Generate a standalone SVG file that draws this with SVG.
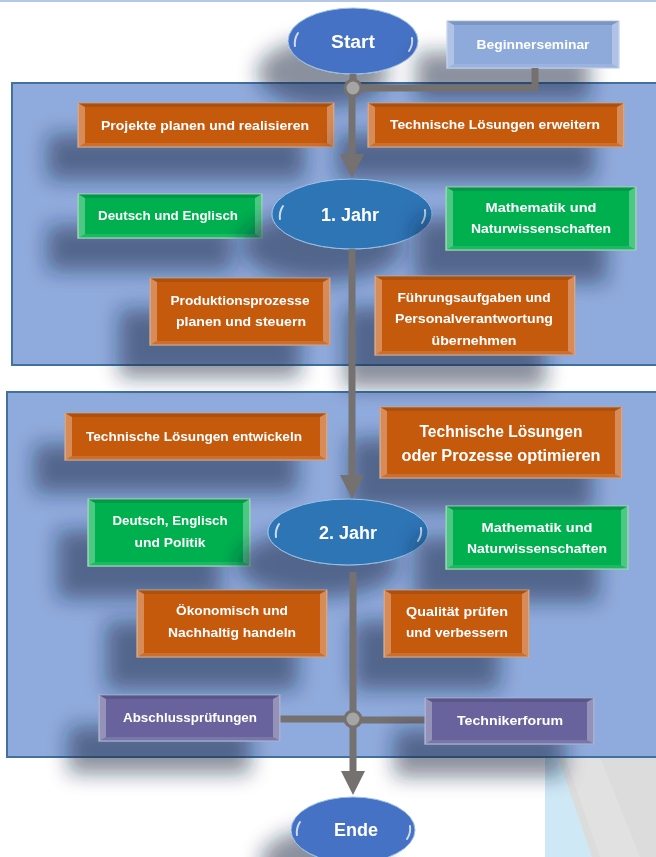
<svg xmlns="http://www.w3.org/2000/svg" width="656" height="857" viewBox="0 0 656 857">
<defs>
<style>
.t{font-family:"Liberation Sans",Arial,sans-serif;font-weight:bold;fill:#fff;text-anchor:middle;font-size:13px}
.big{font-size:18px}
.mid{font-size:16px}
.o{fill:#c55a11;stroke:#c9a38c;stroke-width:1}
.g{fill:#00b050;stroke:#a8d7b9;stroke-width:1}
.p{fill:#67649c;stroke:#aab2d2;stroke-width:1}
.lb{fill:#8eaadb;stroke:#b4c7e7;stroke-width:1}
.hl{fill:#fff;opacity:.3}
.dk{fill:#000;opacity:.12}
.lt{fill:#fff;opacity:.12}
.ell{stroke:#9dc3e6;stroke-width:1}
.gl{fill:none;stroke:#fff;stroke-width:2;stroke-linecap:round;opacity:.75}
.con{fill:none;stroke:#767171;stroke-width:7}
.jn{fill:#a5a5a5;stroke:#767171;stroke-width:3}
.panel{fill:#8faadc;stroke:#41719c;stroke-width:2}
</style>
<marker id="ah" markerWidth="24" markerHeight="24" refX="1" refY="12" orient="auto" markerUnits="userSpaceOnUse"><path d="M0,0 L24,12 L0,24 z" fill="#767171"/></marker>
<filter id="sh" x="-50%" y="-60%" width="200%" height="340%">
<feGaussianBlur in="SourceAlpha" stdDeviation="10"/>
<feOffset dx="-30" dy="32" result="b"/>
<feFlood flood-color="#14213d" flood-opacity="0.5"/>
<feComposite in2="b" operator="in"/>
<feMerge><feMergeNode/><feMergeNode in="SourceGraphic"/></feMerge>
</filter>
</defs>
<rect width="656" height="857" fill="#fff"/>
<line x1="0" y1="1" x2="656" y2="1" stroke="#b4c7e7" stroke-width="2"/>
<g id="background">
<polygon points="545,757 656,757 656,857 545,857" fill="#cfe8f6"/>
<polygon points="558,757 656,757 656,857 592,857" fill="#dcdcdc"/>
<polygon points="565,757 600,757 640,857 600,857" fill="#e4e4e4" opacity="0.6"/>
</g>
<g id="panels">
<rect class="panel" x="12" y="83" width="660" height="282"/>
<rect class="panel" x="7" y="392" width="665" height="365"/>
</g>
<g id="start" filter="url(#sh)">
<ellipse class="ell" cx="353" cy="41" rx="65" ry="33" fill="#4472c4"/>
<path class="gl" d="M295,46 Q294,39 298,33"/><path class="gl" d="M412,38 Q413,45 409,51"/>
<text class="t big" x="353" y="48" textLength="44" lengthAdjust="spacingAndGlyphs">Start</text>
</g>
<g id="beginnerseminar" filter="url(#sh)">
<rect class="lb" x="447" y="21" width="172" height="47"/>
<polygon class="hl" points="447,21 454,25 454,64 447,68"/><polygon class="hl" points="619,21 612,25 612,64 619,68"/>
<polygon class="dk" points="447,21 619,21 612,25 454,25"/><polygon class="lt" points="447,68 619,68 612,64 454,64"/>
<text class="t" x="533" y="49" textLength="113" lengthAdjust="spacingAndGlyphs">Beginnerseminar</text>
</g>
<g id="projekte" filter="url(#sh)">
<rect class="o" x="78" y="103" width="256" height="44"/>
<polygon class="hl" points="78,103 85,107 85,143 78,147"/><polygon class="hl" points="334,103 327,107 327,143 334,147"/>
<polygon class="dk" points="78,103 334,103 327,107 85,107"/><polygon class="lt" points="78,147 334,147 327,143 85,143"/>
<text class="t" x="205" y="130" textLength="208" lengthAdjust="spacingAndGlyphs">Projekte planen und realisieren</text>
</g>
<g id="tech-erweitern" filter="url(#sh)">
<rect class="o" x="368" y="103" width="256" height="44"/>
<polygon class="hl" points="368,103 375,107 375,143 368,147"/><polygon class="hl" points="624,103 617,107 617,143 624,147"/>
<polygon class="dk" points="368,103 624,103 617,107 375,107"/><polygon class="lt" points="368,147 624,147 617,143 375,143"/>
<text class="t" x="495" y="129" textLength="210" lengthAdjust="spacingAndGlyphs">Technische Lösungen erweitern</text>
</g>
<g id="deutsch1" filter="url(#sh)">
<rect class="g" x="78" y="194" width="184" height="44"/>
<polygon class="hl" points="78,194 85,198 85,234 78,238"/><polygon class="hl" points="262,194 255,198 255,234 262,238"/>
<polygon class="dk" points="78,194 262,194 255,198 85,198"/><polygon class="lt" points="78,238 262,238 255,234 85,234"/>
<text class="t" x="168" y="220" textLength="140" lengthAdjust="spacingAndGlyphs">Deutsch und Englisch</text>
</g>
<g id="jahr1" filter="url(#sh)">
<ellipse class="ell" cx="352" cy="214" rx="80" ry="35" fill="#2e75b6"/>
<path class="gl" d="M280,219 Q279,212 283,206"/><path class="gl" d="M425,210 Q426,217 422,223"/>
<text class="t big" x="350" y="221" textLength="58" lengthAdjust="spacingAndGlyphs">1. Jahr</text>
</g>
<g id="mathe1" filter="url(#sh)">
<rect class="g" x="446" y="187" width="190" height="63"/>
<polygon class="hl" points="446,187 453,191 453,246 446,250"/><polygon class="hl" points="636,187 629,191 629,246 636,250"/>
<polygon class="dk" points="446,187 636,187 629,191 453,191"/><polygon class="lt" points="446,250 636,250 629,246 453,246"/>
<text class="t" x="541" y="212" textLength="111" lengthAdjust="spacingAndGlyphs">Mathematik und</text>
<text class="t" x="541" y="233" textLength="140" lengthAdjust="spacingAndGlyphs">Naturwissenschaften</text>
</g>
<g id="produktion" filter="url(#sh)">
<rect class="o" x="150" y="278" width="180" height="67"/>
<polygon class="hl" points="150,278 157,282 157,341 150,345"/><polygon class="hl" points="330,278 323,282 323,341 330,345"/>
<polygon class="dk" points="150,278 330,278 323,282 157,282"/><polygon class="lt" points="150,345 330,345 323,341 157,341"/>
<text class="t" x="240" y="305" textLength="139" lengthAdjust="spacingAndGlyphs">Produktionsprozesse</text>
<text class="t" x="241" y="326" textLength="130" lengthAdjust="spacingAndGlyphs">planen und steuern</text>
</g>
<g id="fuehrung" filter="url(#sh)">
<rect class="o" x="375" y="276" width="200" height="79"/>
<polygon class="hl" points="375,276 382,280 382,351 375,355"/><polygon class="hl" points="575,276 568,280 568,351 575,355"/>
<polygon class="dk" points="375,276 575,276 568,280 382,280"/><polygon class="lt" points="375,355 575,355 568,351 382,351"/>
<text class="t" x="474" y="302" textLength="153" lengthAdjust="spacingAndGlyphs">Führungsaufgaben und</text>
<text class="t" x="474" y="323" textLength="158" lengthAdjust="spacingAndGlyphs">Personalverantwortung</text>
<text class="t" x="474" y="345" textLength="85" lengthAdjust="spacingAndGlyphs">übernehmen</text>
</g>
<g id="tech-entwickeln" filter="url(#sh)">
<rect class="o" x="65" y="413" width="262" height="47"/>
<polygon class="hl" points="65,413 72,417 72,456 65,460"/><polygon class="hl" points="327,413 320,417 320,456 327,460"/>
<polygon class="dk" points="65,413 327,413 320,417 72,417"/><polygon class="lt" points="65,460 327,460 320,456 72,456"/>
<text class="t" x="194" y="441" textLength="216" lengthAdjust="spacingAndGlyphs">Technische Lösungen entwickeln</text>
</g>
<g id="tech-optimieren" filter="url(#sh)">
<rect class="o" x="380" y="407" width="242" height="71"/>
<polygon class="hl" points="380,407 387,411 387,474 380,478"/><polygon class="hl" points="622,407 615,411 615,474 622,478"/>
<polygon class="dk" points="380,407 622,407 615,411 387,411"/><polygon class="lt" points="380,478 622,478 615,474 387,474"/>
<text class="t mid" x="501" y="437" textLength="163" lengthAdjust="spacingAndGlyphs">Technische Lösungen</text>
<text class="t mid" x="501" y="461" textLength="199" lengthAdjust="spacingAndGlyphs">oder Prozesse optimieren</text>
</g>
<g id="deutsch2" filter="url(#sh)">
<rect class="g" x="88" y="499" width="162" height="67"/>
<polygon class="hl" points="88,499 95,503 95,562 88,566"/><polygon class="hl" points="250,499 243,503 243,562 250,566"/>
<polygon class="dk" points="88,499 250,499 243,503 95,503"/><polygon class="lt" points="88,566 250,566 243,562 95,562"/>
<text class="t" x="170" y="525" textLength="115" lengthAdjust="spacingAndGlyphs">Deutsch, Englisch</text>
<text class="t" x="170" y="547" textLength="71" lengthAdjust="spacingAndGlyphs">und Politik</text>
</g>
<g id="jahr2" filter="url(#sh)">
<ellipse class="ell" cx="348" cy="532" rx="80" ry="33" fill="#2e75b6"/>
<path class="gl" d="M276,537 Q275,530 279,524"/><path class="gl" d="M421,528 Q422,535 418,541"/>
<text class="t big" x="348" y="539" textLength="58" lengthAdjust="spacingAndGlyphs">2. Jahr</text>
</g>
<g id="mathe2" filter="url(#sh)">
<rect class="g" x="446" y="506" width="182" height="63"/>
<polygon class="hl" points="446,506 453,510 453,565 446,569"/><polygon class="hl" points="628,506 621,510 621,565 628,569"/>
<polygon class="dk" points="446,506 628,506 621,510 453,510"/><polygon class="lt" points="446,569 628,569 621,565 453,565"/>
<text class="t" x="537" y="532" textLength="111" lengthAdjust="spacingAndGlyphs">Mathematik und</text>
<text class="t" x="537" y="553" textLength="140" lengthAdjust="spacingAndGlyphs">Naturwissenschaften</text>
</g>
<g id="oekonomisch" filter="url(#sh)">
<rect class="o" x="137" y="590" width="190" height="67"/>
<polygon class="hl" points="137,590 144,594 144,653 137,657"/><polygon class="hl" points="327,590 320,594 320,653 327,657"/>
<polygon class="dk" points="137,590 327,590 320,594 144,594"/><polygon class="lt" points="137,657 327,657 320,653 144,653"/>
<text class="t" x="232" y="615" textLength="112" lengthAdjust="spacingAndGlyphs">Ökonomisch und</text>
<text class="t" x="232" y="637" textLength="128" lengthAdjust="spacingAndGlyphs">Nachhaltig handeln</text>
</g>
<g id="qualitaet" filter="url(#sh)">
<rect class="o" x="384" y="590" width="145" height="67"/>
<polygon class="hl" points="384,590 391,594 391,653 384,657"/><polygon class="hl" points="529,590 522,594 522,653 529,657"/>
<polygon class="dk" points="384,590 529,590 522,594 391,594"/><polygon class="lt" points="384,657 529,657 522,653 391,653"/>
<text class="t" x="457" y="616" textLength="102" lengthAdjust="spacingAndGlyphs">Qualität prüfen</text>
<text class="t" x="457" y="637" textLength="102" lengthAdjust="spacingAndGlyphs">und verbessern</text>
</g>
<g id="connectors">
<path class="con" d="M353,74 V88"/>
<path class="con" d="M535,68 V88 H353"/>
<path class="con" d="M352,88 V155" marker-end="url(#ah)"/>
<path class="con" d="M352,249 V476" marker-end="url(#ah)"/>
<path class="con" d="M353,572 V772" marker-end="url(#ah)"/>
<path class="con" d="M280,719 H353 V720 H425"/>
<circle class="jn" cx="353" cy="88" r="8"/>
<circle class="jn" cx="353" cy="719" r="8"/>
</g>
<g id="abschluss" filter="url(#sh)">
<rect class="p" x="99" y="695" width="181" height="46"/>
<polygon class="hl" points="99,695 106,699 106,737 99,741"/><polygon class="hl" points="280,695 273,699 273,737 280,741"/>
<polygon class="dk" points="99,695 280,695 273,699 106,699"/><polygon class="lt" points="99,741 280,741 273,737 106,737"/>
<text class="t" x="190" y="722" textLength="134" lengthAdjust="spacingAndGlyphs">Abschlussprüfungen</text>
</g>
<g id="technikerforum" filter="url(#sh)">
<rect class="p" x="425" y="698" width="169" height="46"/>
<polygon class="hl" points="425,698 432,702 432,740 425,744"/><polygon class="hl" points="594,698 587,702 587,740 594,744"/>
<polygon class="dk" points="425,698 594,698 587,702 432,702"/><polygon class="lt" points="425,744 594,744 587,740 432,740"/>
<text class="t" x="510" y="725" textLength="106" lengthAdjust="spacingAndGlyphs">Technikerforum</text>
</g>
<g id="ende" filter="url(#sh)">
<ellipse class="ell" cx="353" cy="830" rx="62" ry="33" fill="#4472c4"/>
<path class="gl" d="M297,835 Q296,828 300,822"/><path class="gl" d="M410,826 Q411,833 407,839"/>
<text class="t big" x="356" y="836" textLength="44" lengthAdjust="spacingAndGlyphs">Ende</text>
</g>
</svg>
